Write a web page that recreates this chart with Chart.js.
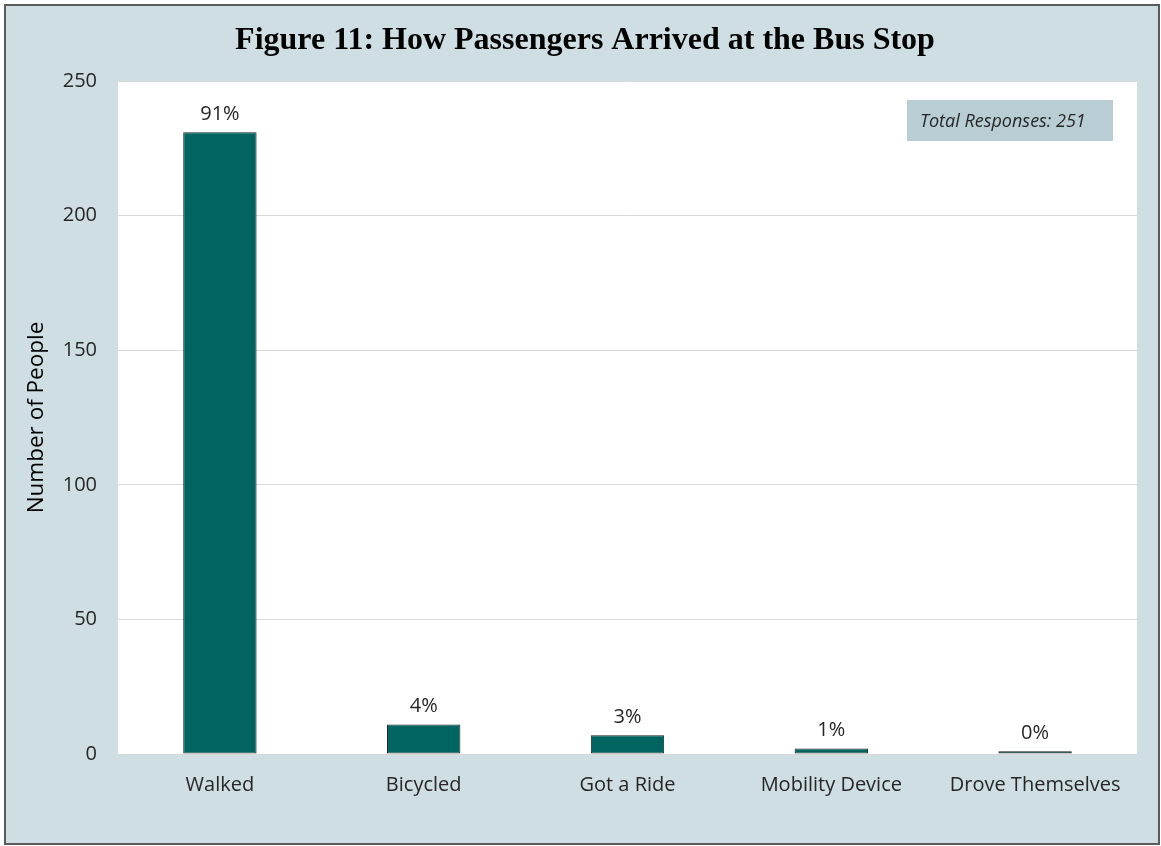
<!DOCTYPE html>
<html>
<head>
<meta charset="utf-8">
<title>How Passengers Arrived at the Bus Stop</title>
<script src="https://cdn.jsdelivr.net/npm/chart.js@4/dist/chart.umd.min.js"></script>
<style>
  html, body { margin:0; padding:0; background:#fff; }
  .frame {
    position:absolute; left:4px; top:4px;
    width:1152px; height:837px;
    border:2px solid #5a5a5a;
    background:#cfdee3;
  }
  .frame canvas { display:block; }
</style>
</head>
<body>
<div class="frame">
  <canvas id="chart" width="1152" height="837"></canvas>
</div>
<script>
// ── Data ──────────────────────────────────────────────────────────────
const categories = ['Walked', 'Bicycled', 'Got a Ride', 'Mobility Device', 'Drove Themselves'];
const people     = [231, 11, 7, 2, 1];
const shares     = ['91%', '4%', '3%', '1%', '0%'];
const yTicks     = [0, 50, 100, 150, 200, 250];
const totalResponses = 251;

const TITLE = 'Figure 11: How Passengers Arrived at the Bus Stop';
const TICK_FONT = '"Open Sans", "Noto Sans", sans-serif';

// white plot background + title + total box + percentage labels
const decorations = {
  id: 'decorations',
  beforeDraw(chart) {
    const { ctx, chartArea: a } = chart;
    ctx.save();
    ctx.fillStyle = '#ffffff';
    ctx.fillRect(a.left, a.top, a.right - a.left, a.bottom - a.top);
    ctx.restore();
  },
  afterDatasetsDraw(chart) {
    const { ctx, chartArea: a } = chart;
    ctx.save();

    // title
    ctx.fillStyle = '#000';
    ctx.font = 'bold 32px "Liberation Serif", "DejaVu Serif", serif';
    ctx.textAlign = 'center';
    ctx.textBaseline = 'alphabetic';
    ctx.fillText(TITLE, chart.width / 2 + 3, 43);

    // percentage labels above bars
    const meta = chart.getDatasetMeta(0);
    ctx.font = '20px ' + TICK_FONT;
    ctx.fillStyle = '#262626';
    ctx.textBaseline = 'bottom';
    meta.data.forEach((bar, i) => {
      ctx.fillText(shares[i], bar.x, bar.y - 8);
    });

    // total responses box
    const bw = 206, bh = 41;
    const bx = a.right - 24 - bw, by = a.top + 19;
    ctx.fillStyle = '#b8ced4';
    ctx.fillRect(bx, by, bw, bh);
    ctx.fillStyle = '#262626';
    ctx.font = 'italic 18px ' + TICK_FONT;
    ctx.textAlign = 'left';
    ctx.textBaseline = 'middle';
    ctx.fillText('Total Responses: ' + totalResponses, bx + 13, by + bh / 2 + 1);

    ctx.restore();
  },
};

new Chart(document.getElementById('chart'), {
  type: 'bar',
  data: {
    labels: categories,
    datasets: [{
      data: people,
      backgroundColor: '#006561',
      borderColor: '#172524',
      borderWidth: 1,
      borderSkipped: false,
      categoryPercentage: 1,
      barPercentage: 0.36,
    }],
  },
  options: {
    responsive: false,
    animation: false,
    layout: { padding: { top: 75, right: 21, bottom: 0, left: 0 } },
    plugins: {
      legend: { display: false },
      tooltip: { enabled: false },
      title: { display: false },
    },
    scales: {
      x: {
        grid: { display: false, drawTicks: false },
        border: { display: false },
        ticks: { color: '#262626', font: { family: TICK_FONT, size: 20 }, padding: 19 },
        afterFit: s => { s.height = 89; },
      },
      y: {
        min: 0, max: 250,
        afterBuildTicks: s => { s.ticks = yTicks.map(v => ({ value: v })); },
        grid: { color: '#d9d9d9', lineWidth: 1, drawTicks: false },
        border: { display: false },
        ticks: { color: '#262626', font: { family: TICK_FONT, size: 20 }, padding: 21 },
        title: {
          display: true,
          text: 'Number of People',
          color: '#000',
          font: { family: TICK_FONT, size: 22.5 },
          padding: { top: 17, bottom: 0 },
        },
        afterFit: s => { s.width = 112; },
      },
    },
  },
  plugins: [decorations],
});
</script>
</body>
</html>
